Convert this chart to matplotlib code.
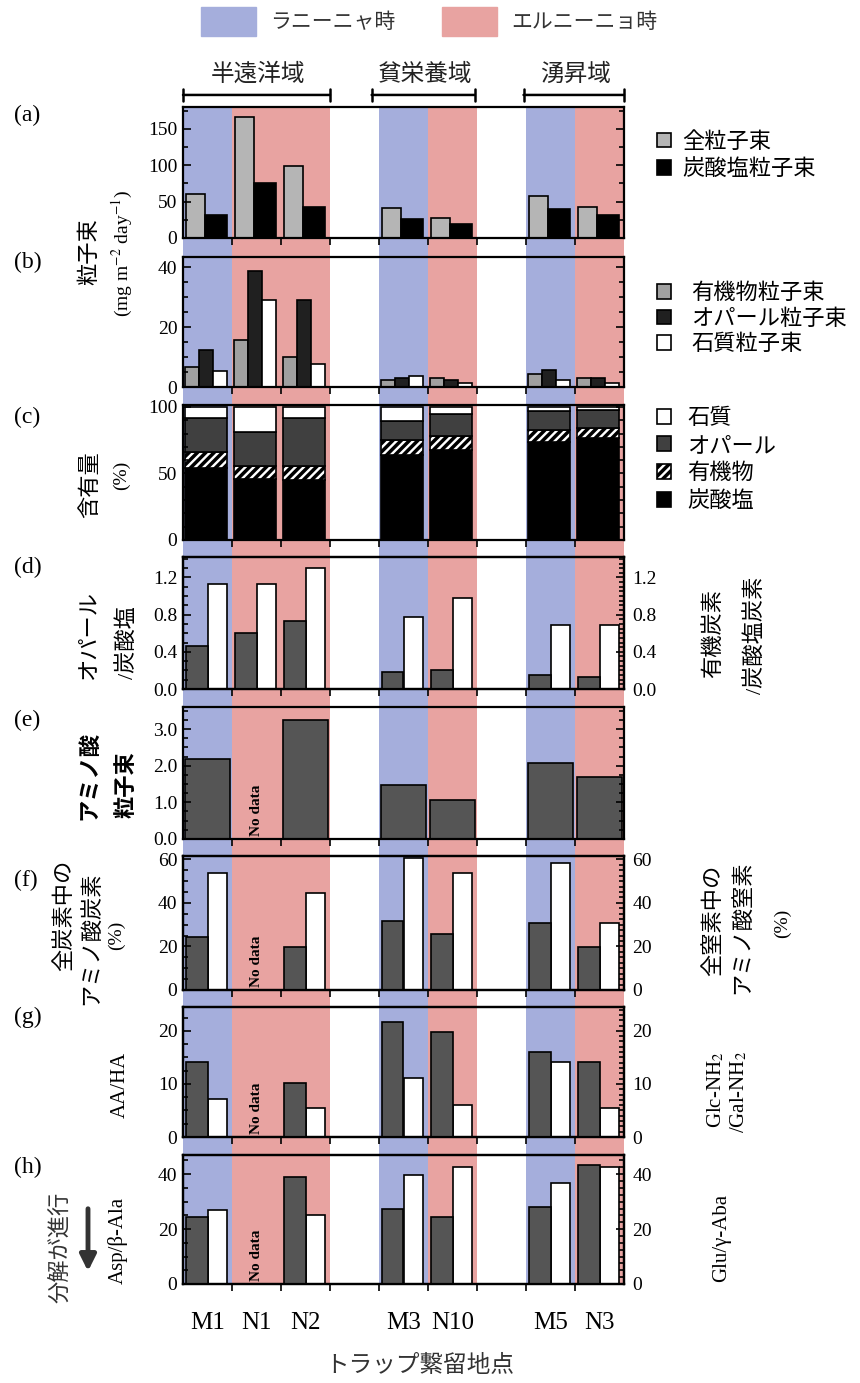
import matplotlib
matplotlib.use("Agg")
import matplotlib.pyplot as plt
from matplotlib.patches import Patch
from matplotlib.ticker import MultipleLocator, FormatStrFormatter

plt.rcParams['font.family'] = ['Liberation Serif', 'Noto Sans CJK JP']
plt.rcParams['mathtext.fontset'] = 'stix'
plt.rcParams['hatch.linewidth'] = 2.5

# ---- data ----
stations = ['M1', 'N1', 'N2', 'M3', 'N10', 'M5', 'N3']
xpos = [0, 1, 2, 4, 5, 7, 8]
phase = ['la', 'el', 'el', 'la', 'el', 'la', 'el']
regions = ['半遠洋域', '貧栄養域', '湧昇域']
region_span = [(-0.5, 2.5), (3.35, 5.45), (6.45, 8.5)]

total_flux = [60, 166, 99, 41, 27, 57.5, 42.5]
carb_flux = [31.5, 75, 42, 26, 19, 40, 31.5]

org_flux = [6.7, 15.8, 10.2, 2.3, 3.1, 4.4, 3.0]
opal_flux = [12.4, 38.9, 29.1, 3.0, 2.3, 5.8, 3.0]
lith_flux = [5.3, 29.1, 7.8, 3.7, 1.4, 2.2, 1.4]

carb_pct = [54, 45.5, 45, 64, 68, 74, 77]
org_pct = [12.5, 10, 10.5, 11.5, 10, 9, 7.5]
opal_pct = [25, 26, 36, 14, 17, 14, 13]
lith_pct = [8.5, 18.5, 8.5, 10.5, 5, 3, 2.5]

opal_carb = [0.46, 0.60, 0.73, 0.18, 0.20, 0.15, 0.13]
orgc_carbc = [1.125, 1.125, 1.30, 0.77, 0.975, 0.69, 0.69]

aa_flux = [2.18, None, 3.24, 1.47, 1.06, 2.07, 1.69]
aac_pct = [24.3, None, 19.7, 31.7, 25.7, 30.7, 19.7]
aan_pct = [53.7, None, 44.5, 60.5, 53.7, 58.3, 30.7]
aa_ha = [14.2, None, 10.2, 21.7, 19.8, 16.0, 14.2]
glc_gal = [7.2, None, 5.5, 11.1, 6.0, 14.2, 5.5]
asp_bala = [24.4, None, 38.9, 27.3, 24.4, 28.0, 43.3]
glu_gaba = [26.9, None, 25.1, 39.6, 42.5, 36.7, 42.5]

BLUE = '#a5aedc'
PINK = '#e8a3a1'
DARK = '#555555'

W, H = 860, 1383
L, R = 183, 624
fig = plt.figure(figsize=(W / 100, H / 100), dpi=100)


def rect(top, bot):
    return [L / W, 1 - bot / H, (R - L) / W, (bot - top) / H]


def ftext(x, y, s, **kw):
    kw.setdefault('ha', 'center')
    kw.setdefault('va', 'center')
    fig.text(x / W, 1 - y / H, s, **kw)


def valid(vals, dx=0.0):
    pts = [(x + dx, v) for x, v in zip(xpos, vals) if v is not None]
    return [p[0] for p in pts], [p[1] for p in pts]


# background bands (La Nina / El Nino)
bg = fig.add_axes(rect(107, 1284), zorder=0)
bg.set_xlim(-0.5, 8.5)
bg.axis('off')
for x, p in zip(xpos, phase):
    bg.axvspan(x - 0.5, x + 0.5, color=BLUE if p == 'la' else PINK, lw=0)

bounds = [i + 0.5 for i in range(8)]


def panel(top, bot, ylim, ticks, minor, fmt='%d'):
    ax = fig.add_axes(rect(top, bot), zorder=3)
    ax.set_facecolor('none')
    ax.set_xlim(-0.5, 8.5)
    ax.set_ylim(*ylim)
    ax.set_yticks(ticks)
    ax.yaxis.set_minor_locator(MultipleLocator(minor))
    ax.yaxis.set_major_formatter(FormatStrFormatter(fmt))
    ax.set_xticks(bounds)
    ax.set_xticklabels([])
    ax.tick_params(axis='x', direction='out', length=5, width=1.2)
    ax.tick_params(axis='y', which='both', direction='in', right=True,
                   labelsize=14, width=1.2, pad=4)
    ax.tick_params(axis='y', which='major', length=6)
    ax.tick_params(axis='y', which='minor', length=3.5)
    for s in ax.spines.values():
        s.set_linewidth(1.6)
    return ax


def twin(ax, ylim, ticks, minor, fmt='%d'):
    tx = ax.twinx()
    tx.set_zorder(2)
    tx.set_ylim(*ylim)
    tx.set_yticks(ticks)
    tx.yaxis.set_minor_locator(MultipleLocator(minor))
    tx.yaxis.set_major_formatter(FormatStrFormatter(fmt))
    tx.tick_params(axis='y', which='both', direction='in', labelsize=14,
                   width=1.2, pad=6)
    tx.tick_params(axis='y', which='major', length=6)
    tx.tick_params(axis='y', which='minor', length=3.5)
    for s in tx.spines.values():
        s.set_linewidth(1.6)
    return tx


def no_data(ax):
    lo, hi = ax.get_ylim()
    ax.text(1, lo + 0.02 * (hi - lo), 'No data', rotation=90, ha='center',
            va='bottom', fontsize=11, fontweight='bold')


bar_kw = dict(edgecolor='black', linewidth=1.2)

# (a) particle flux
ax_a = panel(107, 238, (0, 180), [0, 50, 100, 150], 25)
ax_a.bar([x - 0.24 for x in xpos], total_flux, 0.38, color='#b5b5b5', label='全粒子束', **bar_kw)
ax_a.bar([x + 0.17 for x in xpos], carb_flux, 0.44, color='black', label='炭酸塩粒子束', **bar_kw)
ax_a.legend(loc='upper left', bbox_to_anchor=(657 / W, 1 - 132 / H),
            bbox_transform=fig.transFigure, frameon=False, fontsize=16,
            handlelength=0.65, handleheight=0.65, handletextpad=0.5,
            labelspacing=0.3, borderpad=0, borderaxespad=0)

for (x0, x1), name in zip(region_span, regions):
    ax_a.annotate('', xy=(x1, 1.092), xytext=(x0, 1.092),
                  xycoords=('data', 'axes fraction'), textcoords=('data', 'axes fraction'),
                  arrowprops=dict(arrowstyle='|-|, widthA=0.45, widthB=0.45', lw=1.8,
                                  color='black', shrinkA=0, shrinkB=0),
                  annotation_clip=False)
    ax_a.text((x0 + x1) / 2 + 0.03, 1.245, name, transform=ax_a.get_xaxis_transform(),
              ha='center', va='center', fontsize=17, color='#222222')

# (b) component fluxes
ax_b = panel(257, 387, (0, 43.5), [0, 20, 40], 5)
ax_b.bar([x - 0.31 for x in xpos], org_flux, 0.28, color='#a0a0a0', label='有機物粒子束', **bar_kw)
ax_b.bar([x - 0.03 for x in xpos], opal_flux, 0.28, color='#202020', label='オパール粒子束', **bar_kw)
ax_b.bar([x + 0.26 for x in xpos], lith_flux, 0.28, color='white', label='石質粒子束', **bar_kw)
ax_b.legend(loc='upper left', bbox_to_anchor=(657 / W, 1 - 284 / H),
            bbox_transform=fig.transFigure, frameon=False, fontsize=16,
            handlelength=0.65, handleheight=0.65, handletextpad=0.9,
            labelspacing=0.22, borderpad=0, borderaxespad=0)

# (c) composition
ax_c = panel(405, 540, (0, 101.5), [0, 50, 100], 10)
cx = [x - 0.03 for x in xpos]
b1 = ax_c.bar(cx, carb_pct, 0.86, color='black', label='炭酸塩', **bar_kw)
bottom = carb_pct[:]
b2 = ax_c.bar(cx, org_pct, 0.86, bottom=bottom, facecolor='white', hatch='////',
              label='有機物', **bar_kw)
bottom = [a + b for a, b in zip(bottom, org_pct)]
b3 = ax_c.bar(cx, opal_pct, 0.86, bottom=bottom, color='#404040', label='オパール', **bar_kw)
bottom = [a + b for a, b in zip(bottom, opal_pct)]
b4 = ax_c.bar(cx, lith_pct, 0.86, bottom=bottom, color='white', label='石質', **bar_kw)
ax_c.legend(handles=[b4, b3, b2, b1], loc='upper left',
            bbox_to_anchor=(657 / W, 1 - 409 / H), bbox_transform=fig.transFigure,
            frameon=False, fontsize=16, handlelength=0.65, handleheight=0.65,
            handletextpad=0.7, labelspacing=0.32, borderpad=0, borderaxespad=0)

# (d) ratios
ax_d = panel(557, 689, (0, 1.42), [0, 0.4, 0.8, 1.2], 0.1, '%.1f')
ax_d.bar(*valid(opal_carb, -0.22), 0.44, color=DARK, **bar_kw)
tx_d = twin(ax_d, (0, 1.42), [0, 0.4, 0.8, 1.2], 0.05, '%.1f')
tx_d.bar(*valid(orgc_carbc, 0.2), 0.40, color='white', **bar_kw)

# (e) amino acid flux
ax_e = panel(707, 839, (0, 3.6), [0, 1, 2, 3], 0.25, '%.1f')
ax_e.bar(*valid(aa_flux, 0.0), 0.9, color=DARK, **bar_kw)
no_data(ax_e)

# (f) amino acid C / N
ax_f = panel(856, 990, (0, 61.5), [0, 20, 40, 60], 5)
ax_f.bar(*valid(aac_pct, -0.22), 0.44, color=DARK, **bar_kw)
tx_f = twin(ax_f, (0, 61.5), [0, 20, 40, 60], 2.5)
tx_f.bar(*valid(aan_pct, 0.2), 0.40, color='white', **bar_kw)
no_data(ax_f)

# (g) AA/HA and Glc-NH2/Gal-NH2
ax_g = panel(1007, 1137, (0, 24.5), [0, 10, 20], 2.5)
ax_g.bar(*valid(aa_ha, -0.22), 0.44, color=DARK, **bar_kw)
tx_g = twin(ax_g, (0, 24.5), [0, 10, 20], 1)
tx_g.bar(*valid(glc_gal, 0.2), 0.40, color='white', **bar_kw)
no_data(ax_g)

# (h) Asp/b-Ala and Glu/g-Aba
ax_h = panel(1155, 1284, (0, 47), [0, 20, 40], 5)
ax_h.bar(*valid(asp_bala, -0.22), 0.44, color=DARK, **bar_kw)
tx_h = twin(ax_h, (0, 47), [0, 20, 40], 2.5)
tx_h.bar(*valid(glu_gaba, 0.2), 0.40, color='white', **bar_kw)
no_data(ax_h)
ax_h.set_xticks(xpos, minor=True)
ax_h.set_xticklabels(stations, minor=True)
ax_h.tick_params(axis='x', which='minor', length=0, pad=20, labelsize=18)

# top legend
fig.legend(handles=[Patch(color=BLUE), Patch(color=PINK)],
           labels=['ラニーニャ時', 'エルニーニョ時'], ncol=2, loc='upper left',
           bbox_to_anchor=(201 / W, 1 - 7 / H), frameon=False, fontsize=15,
           handlelength=2.64, handleheight=1.73, handletextpad=0.67,
           columnspacing=2.26, borderpad=0, borderaxespad=0, labelcolor='#333333')

# panel letters
for lab, y in zip('abcdefgh', [115, 262, 417, 567, 720, 880, 1017, 1167]):
    ftext(14, y, f'({lab})', ha='left', fontsize=17)

# left axis labels
rot = dict(rotation=90)
ftext(90, 252, '粒子束', fontsize=16, **rot)
ftext(122, 253, '(mg m$^{-2}$ day$^{-1}$)', fontsize=14, **rot)
ftext(91, 485, '含有量', fontsize=16, **rot)
ftext(121, 475, '(%)', fontsize=14, **rot)
ftext(90, 635, 'オパール', fontsize=16, **rot)
ftext(127, 643, '/炭酸塩', fontsize=16, **rot)
ftext(90, 775, 'アミノ酸', fontsize=16, fontweight='bold', **rot)
ftext(127, 785, '粒子束', fontsize=16, fontweight='bold', **rot)
ftext(65, 915, '全炭素中の', fontsize=16, **rot)
ftext(92, 938, 'アミノ酸炭素', fontsize=16, **rot)
ftext(116, 935, '(%)', fontsize=14, **rot)
ftext(120, 1085, 'AA/HA', fontsize=15, **rot)
ftext(118, 1240, 'Asp/β-Ala', fontsize=15, **rot)
ftext(61, 1247, '分解が進行', fontsize=16, color='#333333', **rot)
ax_h.annotate('', xy=(88 / W, 1 - 1274 / H), xytext=(88 / W, 1 - 1206 / H),
              xycoords='figure fraction',
              arrowprops=dict(arrowstyle='-|>', lw=3.5, color='#333333', mutation_scale=24))

# right axis labels
ftext(714, 633, '有機炭素', fontsize=16, **rot)
ftext(755, 635, '/炭酸塩炭素', fontsize=16, **rot)
ftext(714, 920, '全窒素中の', fontsize=16, **rot)
ftext(743, 927, 'アミノ酸窒素', fontsize=16, **rot)
ftext(782, 923, '(%)', fontsize=14, **rot)
ftext(716, 1090, 'Glc-NH$_2$', fontsize=15, **rot)
ftext(739, 1092, '/Gal-NH$_2$', fontsize=15, **rot)
ftext(722, 1238, 'Glu/γ-Aba', fontsize=15, **rot)

# x label
ftext(420, 1366, 'トラップ繋留地点', fontsize=17, color='#333333')

fig.savefig('out.png', dpi=100)
